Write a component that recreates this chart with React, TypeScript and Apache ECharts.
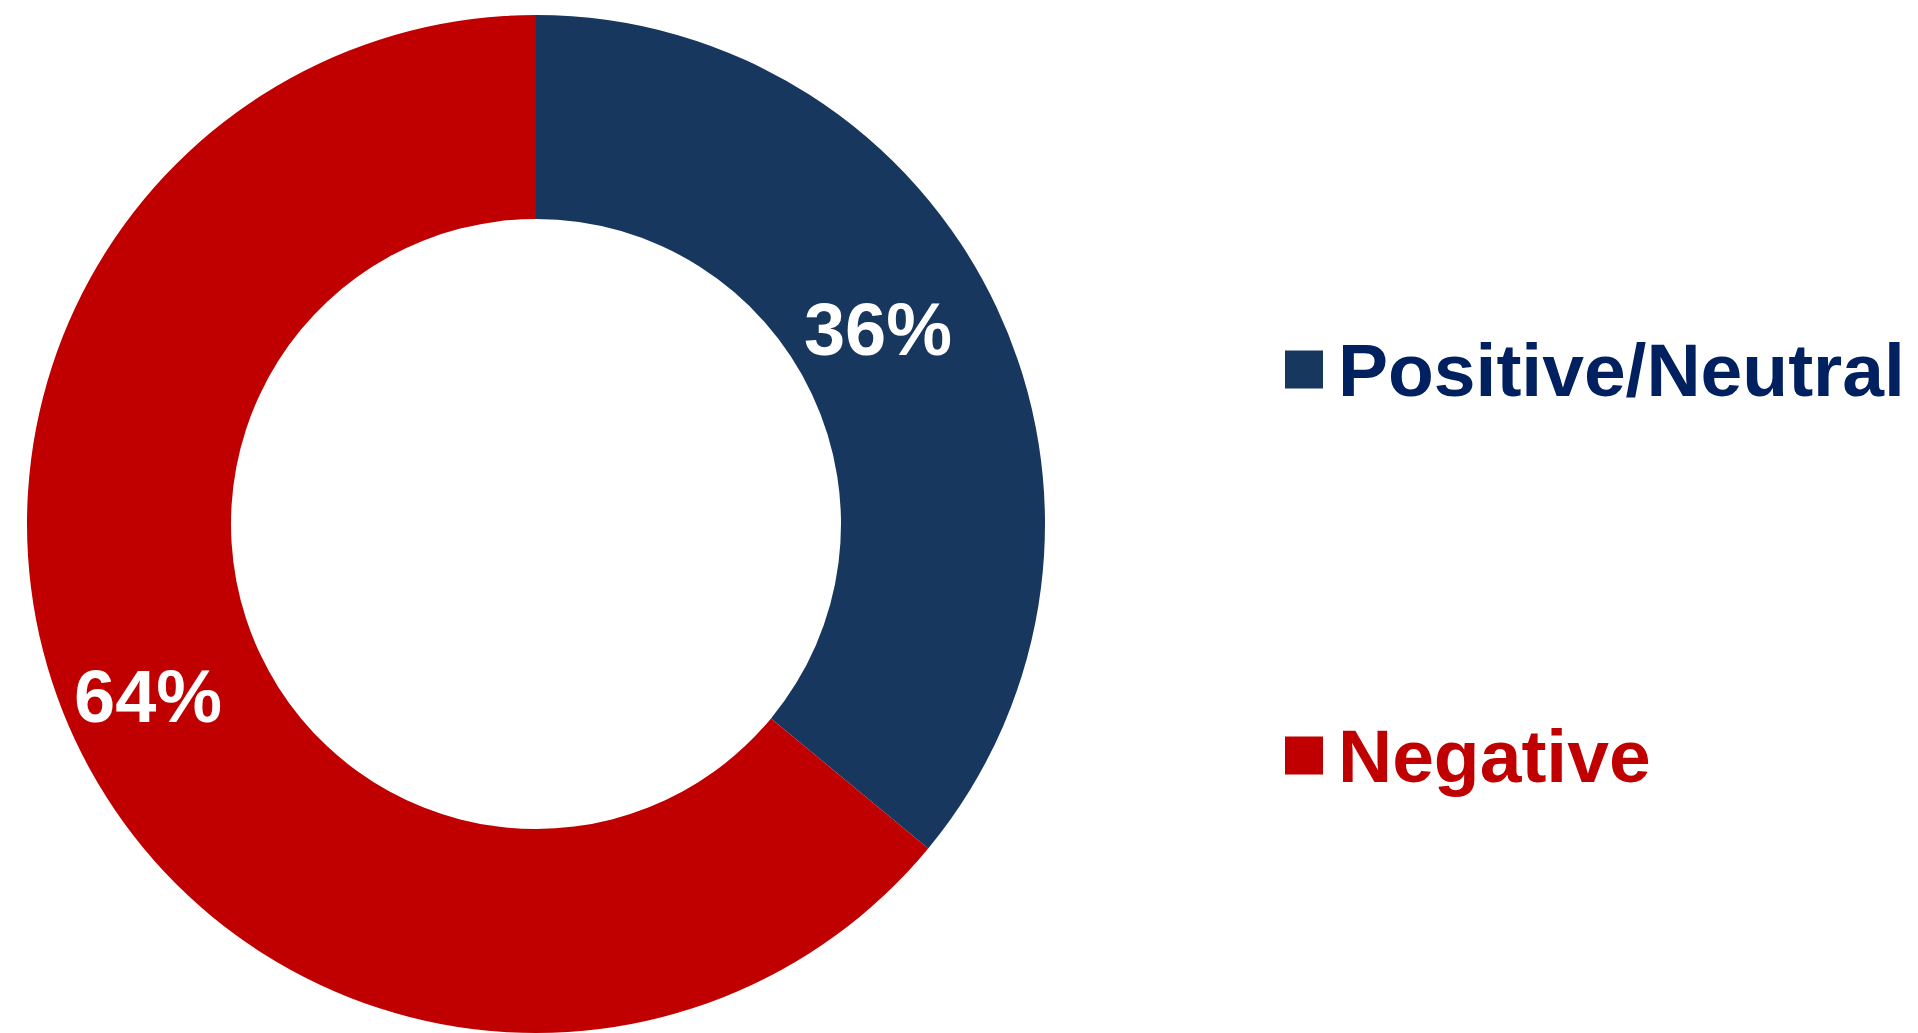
import React, { useEffect, useRef } from "react";
import * as echarts from "echarts";

const categories = ["Positive/Neutral", "Negative"];
const values = [36, 64];
const sliceColors = ["#17375E", "#C00000"];
const legendTextColors = ["#002060", "#C00000"];

export default function App() {
  const ref = useRef<HTMLDivElement>(null);
  useEffect(() => {
    document.body.style.margin = "0";
    document.body.style.overflow = "hidden";
    const chart = echarts.init(ref.current!, undefined, { renderer: "svg" });
    const font = "Liberation Sans";
    chart.setOption({
      animation: false,
      backgroundColor: "#ffffff",
      legend: {
        orient: "vertical",
        left: 1280,
        top: 323,
        itemWidth: 38,
        itemHeight: 38,
        itemGap: 303,
        icon: "rect",
        selectedMode: false,
        data: categories.map((c, i) => ({
          name: c,
          itemStyle: { color: sliceColors[i] },
          textStyle: {
            color: legendTextColors[i],
            fontSize: 75,
            fontWeight: "bold",
            fontFamily: font,
            lineHeight: 75,
            padding: [0, 0, 8, 10],
          },
        })),
      },
      series: [
        {
          type: "pie",
          center: [536, 524],
          radius: [305, 509],
          startAngle: 90,
          clockwise: true,
          avoidLabelOverlap: false,
          label: {
            show: true,
            position: "inside",
            formatter: "{c}%",
            color: "#ffffff",
            fontSize: 74,
            fontWeight: "bold",
            fontFamily: font,
          },
          labelLine: { show: false },
          emphasis: { disabled: true },
          data: categories.map((c, i) => ({
            name: c,
            value: values[i],
            itemStyle: { color: sliceColors[i] },
            label: { offset: i === 0 ? [-29, -20] : [-17, -2] },
          })),
        },
      ],
    });
    return () => chart.dispose();
  }, []);
  return <div ref={ref} style={{ width: 1918, height: 1033 }} />;
}
